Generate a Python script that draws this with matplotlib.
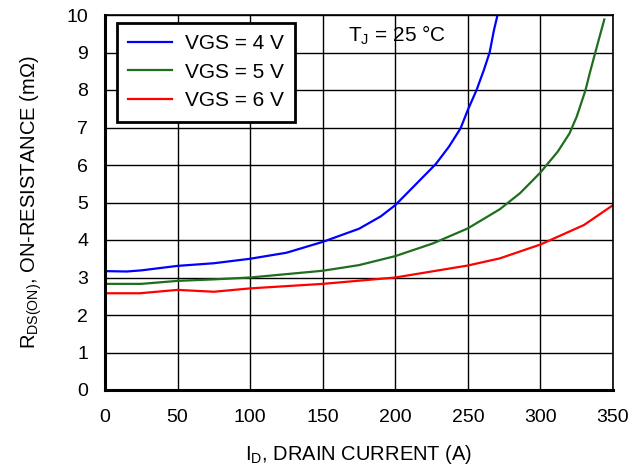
import numpy as np
import matplotlib.pyplot as plt

plt.rcParams['font.family'] = ['Liberation Sans', 'DejaVu Sans']
plt.rcParams['mathtext.fontset'] = 'custom'
plt.rcParams['mathtext.rm'] = 'Liberation Sans'
plt.rcParams['mathtext.it'] = 'Liberation Sans'

# drain current (A) vs on-resistance (mOhm)
id_4v = [0, 15, 25, 50, 75, 100, 125, 150, 175, 190, 200, 212, 228, 237, 245, 250,
         256, 261, 265, 268, 271]
rds_4v = [3.17, 3.16, 3.19, 3.31, 3.38, 3.50, 3.66, 3.95, 4.30, 4.63, 4.93, 5.40, 6.03,
          6.49, 6.98, 7.47, 8.0, 8.53, 9.0, 9.6, 10.09]

id_5v = [0, 25, 50, 75, 100, 150, 175, 200, 226, 250, 272, 286, 300, 312, 320, 325,
         331, 334, 338, 344]
rds_5v = [2.83, 2.83, 2.91, 2.95, 3.0, 3.18, 3.33, 3.57, 3.91, 4.31, 4.82, 5.25, 5.8,
          6.36, 6.84, 7.29, 7.99, 8.45, 9.03, 9.88]

id_6v = [0, 24, 50, 75, 100, 150, 200, 250, 272, 300, 330, 350]
rds_6v = [2.58, 2.58, 2.67, 2.62, 2.71, 2.83, 3.0, 3.32, 3.51, 3.88, 4.4, 4.93]

labels = ['VGS = 4 V', 'VGS = 5 V', 'VGS = 6 V']
colors = ['#0000ff', '#1e6e1e', '#ff0000']

fig = plt.figure(figsize=(6.34, 4.70), dpi=100)
ax = fig.add_axes([105 / 634, 80 / 470, 508 / 634, 375 / 470])

for x, y, lab, c in zip([id_4v, id_5v, id_6v], [rds_4v, rds_5v, rds_6v], labels, colors):
    ax.plot(x, y, color=c, lw=1.6, label=lab)

ax.set_xlim(0, 350)
ax.set_ylim(0, 10)
ax.set_xticks(np.arange(0, 351, 50))
ax.set_yticks(np.arange(0, 11, 1))
ax.grid(True, color='black', lw=1.0)
ax.tick_params(length=0, labelsize=14)
ax.tick_params(axis='x', pad=14)
ax.tick_params(axis='y', pad=12)
ax.spines['left'].set_linewidth(2.2)
ax.spines['bottom'].set_linewidth(2.2)
ax.spines['top'].set_linewidth(1.2)
ax.spines['right'].set_linewidth(1.2)

ax.set_xlabel(r'I$_\mathregular{D}$, DRAIN CURRENT (A)', fontsize=14.5, labelpad=12)
ax.set_ylabel(r'R$_\mathregular{DS(ON)}$, ON-RESISTANCE (mΩ)', fontsize=14.5, labelpad=16)

ax.text(201, 9.47, r'T$_\mathregular{J}$ = 25 °C', fontsize=15, ha='center', va='center')

leg = ax.legend(loc='upper left', bbox_to_anchor=(0.0236, 0.979), fontsize=15,
                frameon=True, fancybox=False, handlelength=2.1, handletextpad=0.6,
                borderpad=0.55, labelspacing=0.45, borderaxespad=0, framealpha=1)
leg.get_frame().set_edgecolor('black')
leg.get_frame().set_linewidth(2.0)

fig.savefig('out.png', dpi=100)
